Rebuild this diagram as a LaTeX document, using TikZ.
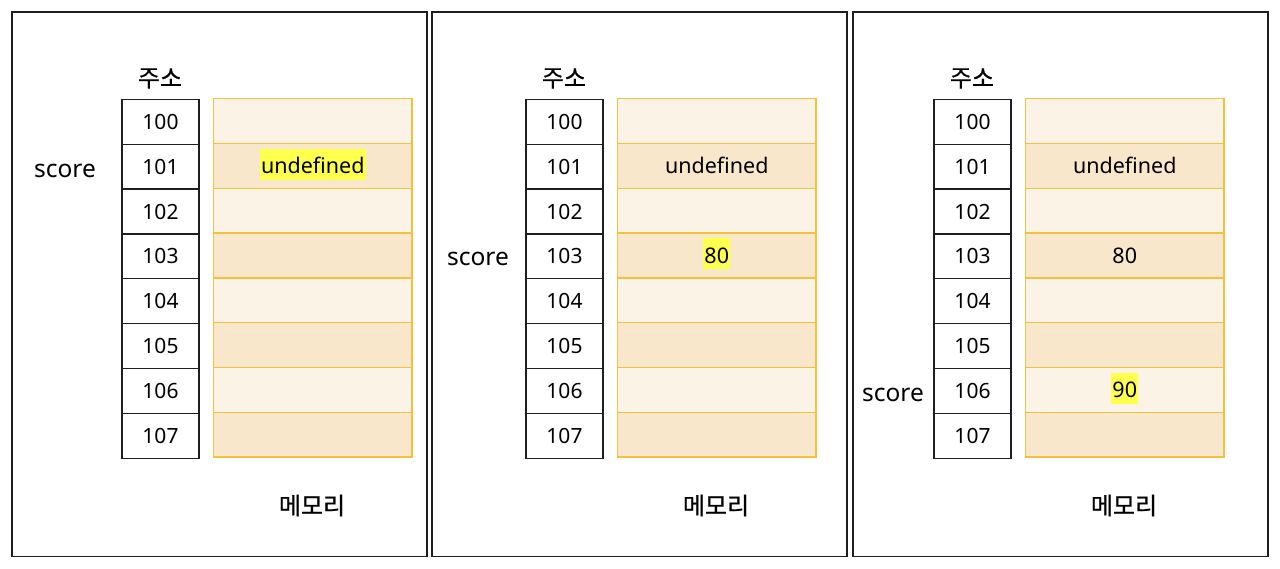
\documentclass[tikz,border=0pt]{standalone}
\usepackage{fontspec}
\setmainfont{Noto Sans}
\newfontfamily\kr[FakeBold=0.6]{Noto Sans CJK KR}
\definecolor{light}{RGB}{251,243,230}
\definecolor{dark}{RGB}{249,231,204}
\definecolor{membd}{RGB}{245,192,62}
\definecolor{hl}{RGB}{255,255,77}
\definecolor{ink}{RGB}{30,30,30}
\begin{document}
\begin{tikzpicture}[x=1pt,y=-1pt,
  panel/.style={draw=ink, line width=1.3pt, minimum width=415, minimum height=544.5, inner sep=0},
  addr/.style={draw=ink, line width=1.2pt, fill=white, minimum width=77, minimum height=44.9, inner sep=0, font=\fontsize{21}{25}\selectfont},
  mem/.style={draw=membd, line width=1.3pt, minimum width=198.5, minimum height=44.8, inner sep=0},
  val/.style={anchor=base, inner xsep=1pt, inner ysep=0pt, text height=25, text depth=6, font=\fontsize{21.5}{25}\selectfont},
  hilite/.style={fill=hl},
  lbl/.style={anchor=base, inner sep=0, font=\fontsize{24.5}{28}\selectfont},
  klbl/.style={inner sep=0, font=\kr\fontsize{24}{28}\selectfont}
]
\useasboundingbox (0,0) rectangle (1280,569);
\foreach \p/\px/\ox in {1/219.5/0, 2/639.5/404, 3/1060.5/812} {
  \node[panel] (frame\p) at (\px,284.25) {};
  \node[klbl] (head\p) at (160+\ox,78.5) {주소};
  \node[klbl] (memlbl\p) at (312+\ox,505.5) {메모리};
  \foreach \i/\f in {0/light,1/dark,2/light,3/dark,4/light,5/dark,6/light,7/dark} {
    \pgfmathtruncatemacro{\num}{100+\i}
    \node[addr] (p\p a\i) at (160.5+\ox, 99.3+44.9*\i+22.45) {\num};
    \node[mem, fill=\f] (p\p m\i) at (312.75+\ox, 98.7+44.8*\i+22.4) {};
  }
}
% panel 1
\node[lbl] (s1) at (65,178) {score};
\node[val, hilite] (v1u) at ([yshift=-8pt]p1m1.center) {undefined};
% panel 2
\node[lbl] (s2) at (478,266) {score};
\node[val] (v2u) at ([yshift=-8pt]p2m1.center) {undefined};
\node[val, hilite] (v2e) at ([yshift=-8pt]p2m3.center) {80};
% panel 3
\node[lbl] (s3) at (893,401) {score};
\node[val] (v3u) at ([yshift=-8pt]p3m1.center) {undefined};
\node[val] (v3e) at ([yshift=-8pt]p3m3.center) {80};
\node[val, hilite] (v3n) at ([yshift=-8pt]p3m6.center) {90};
\end{tikzpicture}
\end{document}
